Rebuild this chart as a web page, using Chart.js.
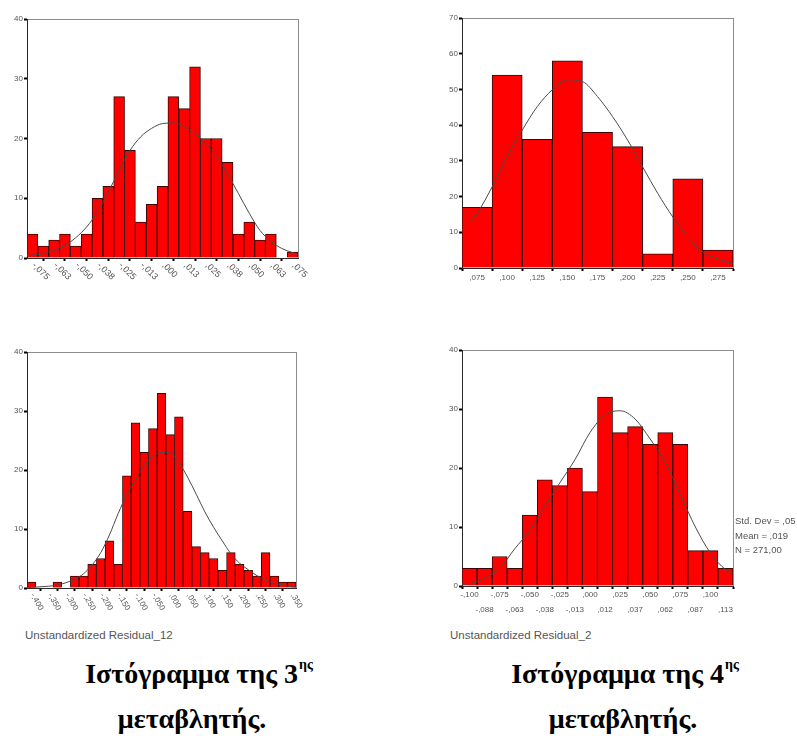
<!DOCTYPE html>
<html><head><meta charset="utf-8">
<script src="https://cdn.jsdelivr.net/npm/chart.js@4.4.1/dist/chart.umd.min.js"></script>
<style>
html,body{margin:0;padding:0;background:#fff;}
body{width:797px;height:736px;position:relative;overflow:hidden;font-family:'Liberation Sans',Arial,sans-serif;}
canvas{position:absolute;}
.cap{position:absolute;font-family:'Liberation Serif','DejaVu Serif','Times New Roman',serif;font-weight:bold;font-size:28px;color:#000;white-space:nowrap;transform:translateX(-50%);line-height:1;}
.cap sup{font-size:14px;vertical-align:top;position:relative;top:-2px;margin-left:1px;}
.small{position:absolute;font-size:9.5px;color:#555;white-space:nowrap;line-height:1;}
.title{position:absolute;font-size:11.5px;color:#555;white-space:nowrap;line-height:1;}
</style></head><body>
<canvas id="c1" width="310" height="300" style="left:0;top:0"></canvas>
<canvas id="c2" width="340" height="300" style="left:430px;top:0"></canvas>
<canvas id="c3" width="310" height="280" style="left:0;top:340px"></canvas>
<canvas id="c4" width="340" height="280" style="left:430px;top:340px"></canvas>
<div class="title" style="left:25px;top:630px">Unstandardized Residual_12</div>
<div class="title" style="left:450px;top:630px">Unstandardized Residual_2</div>
<div class="small" style="left:735px;top:516px">Std. Dev = ,05</div>
<div class="small" style="left:735px;top:531px">Mean = ,019</div>
<div class="small" style="left:735px;top:545px">N = 271,00</div>
<div class="cap" style="left:199px;top:660px">Ιστόγραμμα της 3<sup>ης</sup></div>
<div class="cap" style="left:192px;top:705px">μεταβλητής.</div>
<div class="cap" style="left:625px;top:660px">Ιστόγραμμα της 4<sup>ης</sup></div>
<div class="cap" style="left:623px;top:705px">μεταβλητής.</div>
<script>
// ---- data ----
const p1Counts = [4,2,3,4,2,4,10,12,27,18,6,9,12,27,25,32,20,20,16,4,6,3,4,0,1];
const p1TickLabels = ["-,075","-,063","-,050","-,038","-,025","-,013",",000",",013",",025",",038",",050",",063",",075"];
const p1Curve = [0.4, 0.5,0.7,1.3,2.1,3.4,5.2,7.7,11.0,14.7,18.0,20.3,21.7,22.5,22.6,22.0,20.8,19.2,17.0,14.1,10.8,7.5,4.6,2.8,1.6,0.9, 0.6];

const p2Counts = [17,54,36,58,38,34,4,25,5];
const p2TickLabels = [",075",",100",",125",",150",",175",",200",",225",",250",",275"];
const p2Curve = [10.6,15.3,22.7,31.2,38.6,45.2,49.9,52.7,52.2,48.0,42.4,35.8,28.3,20.9,14.3,8.7,4.5,2.5,1.2];

const p3Counts = [1,0,0,1,0,2,2,4,5,8,4,19,28,23,27,33,26,29,13,7,6,5,3,6,4,3,2,6,2,1,1];
const p3TickLabels = ["-,400","-,350","-,300","-,250","-,200","-,150","-,100","-,050",",000",",050",",100",",150",",200",",250",",300",",350"];
const p3Curve = [0.05, 0.1,0.2,0.3,0.5,0.9,1.5,2.4,3.9,6.0,9.0,12.6,15.8,18.3,20.8,22.3,23.0,22.9,21.3,18.8,15.9,12.9,10.3,8.0,5.8,4.2,3.1,2.1,1.3,0.8,0.5,0.2, 0.15];

const p4Counts = [3,3,5,3,12,18,17,20,16,32,26,27,24,26,24,6,6,3];
const p4TickLabels = ["-,100","-,088","-,075","-,063","-,050","-,038","-,025","-,013",",000",",012",",025",",037",",050",",062",",075",",087",",100",",113"];
const p4Curve = [0.3, 0.4,1.3,3.0,6.3,9.4,13.5,17.5,21.4,26.0,29.0,29.7,28.3,24.9,21.0,15.5,10.0,5.6,2.8, 2.2];

// ---- helpers ----
function curvePoints(vals, n, mode){
  if(mode==='half') return vals.map((v,k)=>({x:-0.5+k*0.5,y:v}));
  return vals.map((v,k)=>({x: k===0 ? -0.5 : (k===vals.length-1 ? n-0.5 : k-1), y:v}));
}
const framePlugin = {id:'frame', beforeDraw(chart){
  const a=chart.chartArea, c=chart.ctx; c.save(); c.strokeStyle='#8c8c8c'; c.lineWidth=1;
  c.strokeRect(Math.round(a.left)+0.5, Math.round(a.top)+0.5, Math.round(a.right-a.left), Math.round(a.bottom-a.top)); c.restore();
}};
function labelPlugin(cfg){
  return {id:'xl', afterDraw(chart){
    const s=chart.scales.x, c=chart.ctx;
    c.save(); c.fillStyle='#555'; c.font=(cfg.size||8)+'px "Liberation Sans", Arial, sans-serif';
    cfg.labels.forEach((t,j)=>{
      const px=s.getPixelForValue(cfg.bins[j]);
      if(cfg.rot){
        c.save(); c.translate(px+cfg.dx, s.top+cfg.dy); c.rotate(cfg.rot*Math.PI/180);
        c.textAlign='left'; c.textBaseline='middle'; c.fillText(t,0,0); c.restore();
      } else {
        const row = cfg.rows ? (j%2) : 0;
        c.textAlign='center'; c.textBaseline='top'; c.fillText(t, px, s.top+cfg.dy+row*(cfg.rowGap||0));
      }
    });
    c.restore();
  }};
}
function makeHist(id, counts, curve, curveMode, ymax, lay, lab){
  const n=counts.length;
  return new Chart(document.getElementById(id), {
    type:'bar',
    data:{datasets:[
      {type:'line', data:curvePoints(curve,n,curveMode), borderColor:'#4a4a4a', borderWidth:1, pointRadius:0, tension:0.4, cubicInterpolationMode:'monotone', order:0},
      {type:'bar', data:counts.map((v,i)=>({x:i,y:v})), backgroundColor:'#ff0000', borderColor:'#3a0505', borderWidth:1, borderSkipped:'bottom', barPercentage:1, categoryPercentage:1, order:1}
    ]},
    options:{
      animation:false, responsive:false, maintainAspectRatio:false, devicePixelRatio:1,
      layout:{padding:{top:lay.top, right:lay.right, left:0, bottom:0}},
      plugins:{legend:{display:false}, tooltip:{enabled:false}},
      scales:{
        x:{type:'linear', min:-0.5, max:n-0.5, offset:false,
           grid:{display:true, drawOnChartArea:false, tickLength:3, tickWidth:2, tickColor:'#000', color:'#000'},
           border:{display:true, color:'#2a2a2a', width:1},
           ticks:{display:false},
           afterBuildTicks:s=>{ s.ticks = lab.bins.map(v=>({value:v})); },
           afterFit:s=>{ s.height = lay.xh; }},
        y:{min:0, max:ymax,
           ticks:{stepSize:10, font:{size:8, family:'"Liberation Sans", Arial'}, color:'#555', padding:1},
           grid:{display:true, drawOnChartArea:false, tickLength:3, tickWidth:2, tickColor:'#000', color:'#000'},
           border:{display:true, color:'#2a2a2a', width:1},
           afterFit:s=>{ s.width = lay.yw; }}
      }
    },
    plugins:[framePlugin, labelPlugin(lab)]
  });
}
const evenBins = n => Array.from({length:Math.ceil(n/2)},(_,k)=>2*k);
const allBins = n => Array.from({length:n},(_,k)=>k);

makeHist('c1', p1Counts, p1Curve, 'centers', 40, {top:19,right:12,yw:27,xh:42},
  {labels:p1TickLabels, bins:evenBins(p1Counts.length), rot:45, dx:1, dy:6, size:9});
makeHist('c2', p2Counts, p2Curve, 'half', 70, {top:18,right:37,yw:32,xh:32},
  {labels:p2TickLabels, bins:allBins(p2Counts.length), dy:6, size:8});
makeHist('c3', p3Counts, p3Curve, 'centers', 40, {top:12,right:14,yw:27,xh:32},
  {labels:p3TickLabels, bins:evenBins(p3Counts.length), rot:60, dx:1, dy:6, size:8});
makeHist('c4', p4Counts, p4Curve, 'centers', 40, {top:10,right:37,yw:32,xh:34},
  {labels:p4TickLabels, bins:allBins(p4Counts.length), rows:true, rowGap:15, dy:5, size:8});
</script>
</body></html>
